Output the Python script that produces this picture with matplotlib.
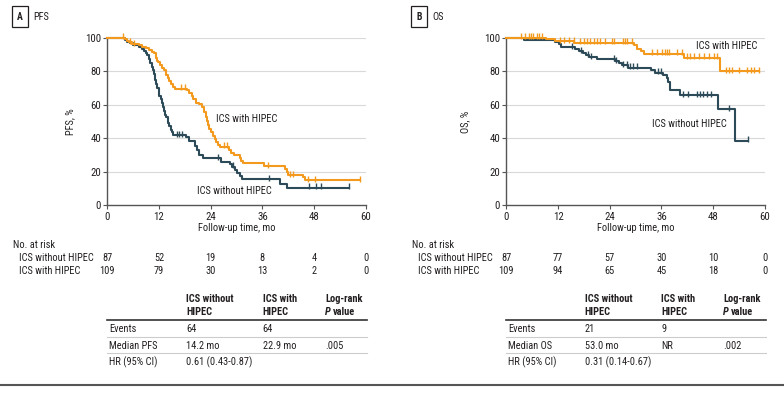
import matplotlib
matplotlib.use("Agg")
import matplotlib.pyplot as plt
from matplotlib import font_manager
from matplotlib.lines import Line2D
from matplotlib.transforms import blended_transform_factory

# pick a narrow sans if we have one
_names = {f.name for f in font_manager.fontManager.ttflist}
for cand in ['Liberation Sans Narrow', 'Roboto Condensed', 'Open Sans Condensed', 'Noto Sans', 'DejaVu Sans']:
    if cand in _names:
        FONT = cand
        break
plt.rcParams['font.family'] = [FONT, 'DejaVu Sans']
FS = 7.5

ORANGE = '#F39A1E'
DARK = '#2C4A58'
TXT = '#231f20'
AX = '#555555'

# ---------------- data ----------------
x_ticks = [0, 12, 24, 36, 48, 60]

# PFS, ICS without HIPEC
pfs_no_t = [0, 4.1, 4.6, 5.3, 6.0, 7.4, 8.0, 8.5, 8.9, 9.2, 9.6, 10.0, 10.3, 10.6, 10.9, 11.1,
            11.3, 11.6, 11.9, 12.1, 12.4, 12.6, 12.9, 13.1, 13.4, 13.7, 14.0, 14.2, 14.4, 14.7,
            15.0, 15.3, 18.2, 19.0, 20.3, 20.9, 21.4, 22.2, 26.4, 28.4, 29.0, 29.6, 30.2, 30.8,
            31.2, 40.1, 41.8, 56.2]
pfs_no_s = [100, 98.9, 97.7, 96.6, 95.4, 94.3, 93.1, 92.0, 90.8, 89.7, 87.4, 85.1, 82.8, 80.5,
            78.2, 74.7, 72.4, 70.1, 67.8, 65.5, 63.2, 60.9, 58.6, 56.3, 54.0, 52.9, 50.6, 49.4,
            47.1, 44.8, 43.7, 42.0, 40.5, 38.5, 35.5, 33.0, 30.0, 28.0, 26.0, 24.5, 23.0, 21.0,
            19.0, 17.5, 15.5, 13.0, 10.6, 10.6]
pfs_no_cens_t = [16.2, 16.7, 17.3, 25.8, 29.2, 37.6, 46.8, 48.5, 49.7, 56.2]

# PFS, ICS with HIPEC
pfs_yes_t = [0, 4.1, 4.5, 5.0, 5.7, 7.3, 8.0, 9.0, 9.6, 10.3, 10.8, 11.2, 11.5, 11.8, 12.3,
             12.7, 13.2, 13.6, 14.0, 14.4, 14.8, 15.2, 15.7, 18.4, 19.0, 19.6, 20.0, 20.5, 21.2,
             22.0, 22.5, 22.8, 23.1, 23.4, 23.7, 24.1, 24.5, 24.9, 25.3, 25.7, 26.1, 28.3, 28.8,
             29.5, 30.7, 31.1, 31.6, 36.3, 41.2, 41.6, 42.0, 45.4, 45.8, 58.6]
pfs_yes_s = [100, 99.1, 98.2, 97.2, 96.3, 95.4, 94.5, 93.6, 92.7, 91.7, 90.8, 88.1, 86.2, 85.3,
             83.5, 81.7, 80.7, 78.0, 76.1, 74.3, 72.5, 70.6, 69.6, 68.7, 66.8, 65.0, 63.2, 61.3,
             60.4, 58.6, 55.8, 52.9, 50.1, 48.2, 45.4, 43.5, 41.6, 39.7, 37.9, 36.0, 35.0, 33.1,
             31.2, 30.2, 28.3, 26.4, 25.4, 23.5, 21.6, 19.7, 17.8, 16.8, 15.0, 15.0]
pfs_yes_cens_t = [3.7, 5.2, 6.3, 17.0, 18.1, 27.0, 27.8, 37.4, 42.4, 43.1, 46.6, 48.1, 58.6]

# OS, ICS without HIPEC
os_no_t = [0, 4.0, 11.4, 12.2, 12.6, 16.0, 16.8, 17.8, 18.5, 19.3, 21.0, 25.2, 26.1, 26.8,
           28.3, 33.7, 34.5, 36.4, 37.2, 37.6, 38.0, 40.3, 49.2, 53.1, 56.1]
os_no_s = [100, 98.9, 97.7, 96.5, 94.2, 93.0, 91.8, 90.7, 89.5, 88.3, 87.1, 85.9, 84.7, 83.5,
           82.2, 80.7, 79.1, 77.5, 75.8, 73.8, 68.8, 65.8, 57.4, 38.5, 38.5]
os_no_cens_t = [15.2, 17.3, 18.9, 19.6, 24.9, 25.5, 27.2, 28.0, 28.8, 29.5, 30.3, 35.2, 35.8,
                41.1, 42.2, 44.2, 44.9, 45.7, 46.6, 47.6, 51.7, 56.1]

# OS, ICS with HIPEC
os_yes_t = [0, 9.3, 11.2, 15.8, 29.6, 30.4, 31.2, 31.9, 41.2, 49.7, 58.6]
os_yes_s = [100, 99.0, 98.0, 97.0, 95.5, 93.5, 92.0, 90.5, 88.0, 80.2, 80.2]
os_yes_cens_t = [3.5, 4.4, 5.2, 5.8, 6.3, 7.1, 7.5, 8.3, 12.5, 13.3, 14.5, 15.6, 17.2, 18.0,
                 18.7, 19.5, 20.3, 21.1, 21.8, 23.0, 24.5, 24.9, 27.2, 27.6, 28.0, 29.2, 33.8,
                 35.0, 36.1, 36.9, 37.3, 37.7, 39.6, 40.8, 42.0, 42.7, 43.5, 44.7, 45.8, 47.0,
                 48.1, 48.9, 50.9, 51.6, 52.4, 53.9, 55.9, 56.7, 57.4, 58.6]

# numbers at risk
pfs_risk_no = [87, 52, 19, 8, 4, 0]
pfs_risk_yes = [109, 79, 30, 13, 2, 0]
os_risk_no = [87, 77, 57, 30, 10, 0]
os_risk_yes = [109, 94, 65, 45, 18, 0]

# summary tables
pfs_table = [['Events', '64', '64', ''],
             ['Median PFS', '14.2 mo', '22.9 mo', '.005'],
             ['HR (95% CI)', '0.61 (0.43-0.87)', '', '']]
os_table = [['Events', '21', '9', ''],
            ['Median OS', '53.0 mo', 'NR', '.002'],
            ['HR (95% CI)', '0.31 (0.14-0.67)', '', '']]

W, H = 784, 393
fig = plt.figure(figsize=(W / 100, H / 100), dpi=100)


def px(x, y):
    return x / W, 1 - y / H


def surv_at(ts, ss, t):
    val = ss[0]
    for ti, si in zip(ts, ss):
        if ti <= t:
            val = si
    return val


def km_panel(left, letter, title, ylab, ylab_x, curves, labels, risk, table, text_cols):
    ax = fig.add_axes([left / W, 1 - 205.3 / H, 258.5 / W, 167.6 / H])
    for ts, ss, cens, col in curves:
        ax.step(ts, ss, where='post', color=col, lw=1.5, clip_on=False, zorder=3)
        ax.plot(cens, [surv_at(ts, ss, c) + 0.8 for c in cens], ls='none', marker='|',
                ms=4, mew=1.0, color=col, clip_on=False, zorder=3)
    ax.set_xlim(0, 60)
    ax.set_ylim(0, 100)
    ax.set_xticks(x_ticks)
    ax.set_yticks([0, 20, 40, 60, 80, 100])
    for y in [20, 40, 60, 80, 100]:
        ax.axhline(y, color='#d9d9d9', lw=0.8, zorder=1)
    for s in ['top', 'right']:
        ax.spines[s].set_visible(False)
    for s in ['left', 'bottom']:
        ax.spines[s].set_color(AX)
        ax.spines[s].set_linewidth(1.0)
    ax.tick_params(direction='out', length=3, width=0.8, color=AX, labelsize=7.8,
                   labelcolor=TXT, pad=1.5)
    ax.set_ylabel(ylab, fontsize=FS, color=TXT)
    ax.yaxis.set_label_coords(ylab_x, 0.5)
    ax.set_xlabel('Follow-up time, mo', fontsize=FS, color=TXT)
    ax.xaxis.set_label_coords(0.5, -0.105)
    for (tx, ty, s) in labels:
        ax.text(tx, ty, s, ha='center', va='center', fontsize=FS, color=TXT)

    # panel letter
    bx, by = left - 87.3, 16.5
    fig.text(*px(bx, by), letter, ha='center', va='center', fontsize=7, weight='bold', color=TXT,
             bbox=dict(boxstyle='square,pad=0.55', fc='white', ec=TXT, lw=0.9))
    fig.text(*px(bx + 13, by), title, ha='left', va='center', fontsize=FS, color=TXT)

    # numbers at risk
    tr = blended_transform_factory(ax.transData, fig.transFigure)
    fig.text(*px(left - 94, 244.7), 'No. at risk', ha='left', va='center', fontsize=FS, color=TXT)
    for row_y, name, vals in [(257.7, 'ICS without HIPEC', risk[0]), (270.7, 'ICS with HIPEC', risk[1])]:
        fig.text(*px(left - 88.5, row_y), name, ha='left', va='center', fontsize=FS, color=TXT)
        for xt, v in zip(x_ticks, vals):
            ax.text(xt, 1 - row_y / H, str(v), transform=tr, ha='center', va='center',
                    fontsize=FS, color=TXT)

    # summary table
    c0, c1, c2, c3 = text_cols
    for cx, l1, l2 in [(c1, 'ICS without', 'HIPEC'), (c2, 'ICS with', 'HIPEC'), (c3, 'Log-rank', None)]:
        fig.text(*px(cx, 299.3), l1, ha='left', va='center', fontsize=FS, weight='bold', color=TXT)
        if l2:
            fig.text(*px(cx, 311.7), l2, ha='left', va='center', fontsize=FS, weight='bold', color=TXT)
    fig.text(*px(c3, 311.7), 'P', ha='left', va='center', fontsize=FS, weight='bold',
             style='italic', color=TXT)
    fig.text(*px(c3 + 7.5, 311.7), 'value', ha='left', va='center', fontsize=FS, weight='bold', color=TXT)
    x0, x1 = px(left, 0)[0], px(left + 259.5, 0)[0]
    fig.add_artist(Line2D([x0, x1], [1 - 320 / H] * 2, color='#333333', lw=1.2))
    for ly in [336.7, 353.3]:
        fig.add_artist(Line2D([x0, x1], [1 - ly / H] * 2, color='#cccccc', lw=0.8))
    for row, ry in zip(table, [329, 345.7, 362.7]):
        for cx, s in zip([c0, c1, c2, c3], row):
            fig.text(*px(cx, ry), s, ha='left', va='center', fontsize=FS, color=TXT)
    return ax


km_panel(107.3, 'A', 'PFS', 'PFS, %', -0.125,
         [(pfs_no_t, pfs_no_s, pfs_no_cens_t, DARK), (pfs_yes_t, pfs_yes_s, pfs_yes_cens_t, ORANGE)],
         [(32.3, 51.5, 'ICS with HIPEC'), (29.4, 8.5, 'ICS without HIPEC')],
         [pfs_risk_no, pfs_risk_yes], pfs_table, (109, 186, 262.7, 325))

km_panel(506.3, 'B', 'OS', 'OS, %', -0.139,
         [(os_no_t, os_no_s, os_no_cens_t, DARK), (os_yes_t, os_yes_s, os_yes_cens_t, ORANGE)],
         [(51.1, 95, 'ICS with HIPEC'), (42.5, 48.7, 'ICS without HIPEC')],
         [os_risk_no, os_risk_yes], os_table, (508, 584.7, 661.3, 723))

fig.add_artist(Line2D([0, 1], [1 - 385 / H] * 2, color='#555555', lw=1.5))

fig.savefig('out.png', dpi=100)
